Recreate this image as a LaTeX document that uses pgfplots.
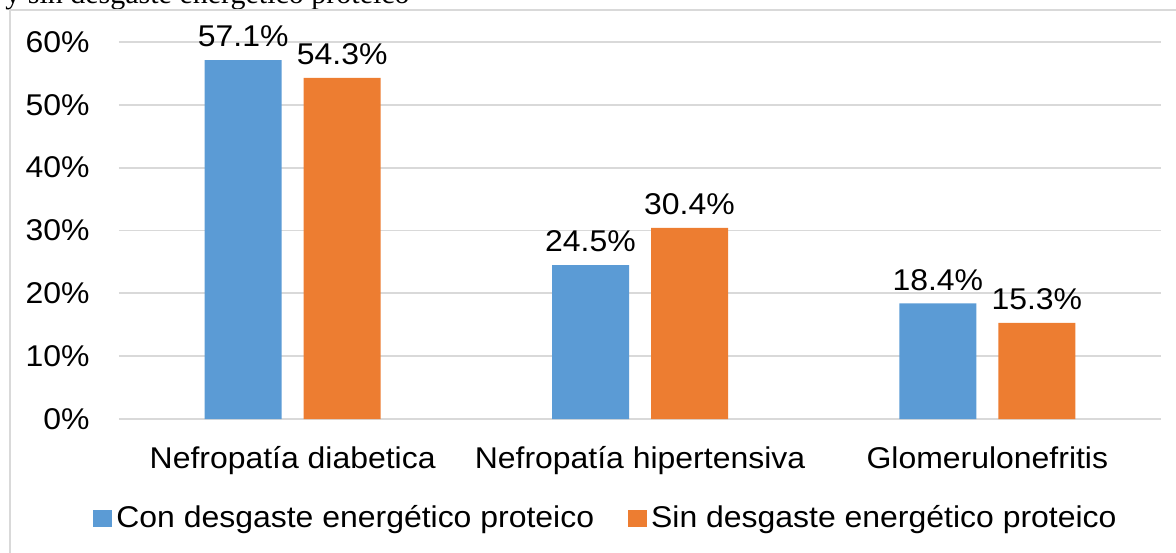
\documentclass[border=0pt]{standalone}
\usepackage{pgfplots}
\pgfplotsset{compat=1.18}
\usepackage{fontspec}
\setmainfont{Liberation Sans}[FakeStretch=1.065]
\newfontfamily\timesfont{Liberation Serif}
\definecolor{cblue}{HTML}{5B9BD5}
\definecolor{corange}{HTML}{ED7D31}
\definecolor{gridgray}{HTML}{D9D9D9}
\begin{document}
\begin{tikzpicture}
\path[use as bounding box] (-59.5pt,-66.5pt) rectangle (528.5pt,209.5pt);
\clip (-59.5pt,-66.5pt) rectangle (528.5pt,209.5pt);
\node[anchor=base west, inner sep=0pt, font=\timesfont\fontsize{15}{18}\selectfont] at (-57pt,207.5pt) {y sin desgaste energético proteico};
\draw[gridgray, line width=0.75pt] (-54.5pt,204.5pt) rectangle (540pt,-80pt);
\begin{axis}[
  scale only axis, width=521pt, height=188.5pt,
  ybar=11pt, bar width=38.5pt,
  xmin=-0.5, xmax=2.5, ymin=0, ymax=60,
  xtick={0,1,2},
  xticklabels={Nefropatía diabetica, Nefropatía hipertensiva, Glomerulonefritis},
  ytick={0,10,...,60},
  yticklabels={0\%,10\%,20\%,30\%,40\%,50\%,60\%},
  major tick length=0pt,
  axis lines*=left,
  axis line style={draw=none},
  ymajorgrids, grid style={gridgray, line width=0.85pt},
  tick label style={font=\fontsize{15}{18}\selectfont},
  yticklabel style={anchor=east, inner sep=0pt, xshift=-14.5pt},
  xticklabel style={anchor=north, inner sep=0pt, yshift=-13.5pt},
  /pgf/number format/assume math mode=true,
  nodes near coords={\pgfmathprintnumber[fixed,fixed zerofill,precision=1]{\pgfplotspointmeta}\%},
  nodes near coords style={font=\fontsize{15}{18}\selectfont, yshift=3pt},
  clip=false,
  legend columns=2,
  legend style={at={(-0.025,-0.2626)}, anchor=west, draw=none, fill=none, inner sep=0pt,
    font=\fontsize{15}{18}\selectfont,
    /tikz/every even column/.append style={column sep=15pt}},
]
\addplot[fill=cblue, draw=none, legend image code/.code={\fill[cblue] (0pt,-4.25pt) rectangle (9.5pt,4.25pt);}]
  coordinates {(0,57.1) (1,24.5) (2,18.4)};
\addlegendentry{Con desgaste energético proteico}
\addplot[fill=corange, draw=none, legend image code/.code={\fill[corange] (0pt,-4.25pt) rectangle (9.5pt,4.25pt);}]
  coordinates {(0,54.3) (1,30.4) (2,15.3)};
\addlegendentry{Sin desgaste energético proteico}
\end{axis}
\end{tikzpicture}
\end{document}
